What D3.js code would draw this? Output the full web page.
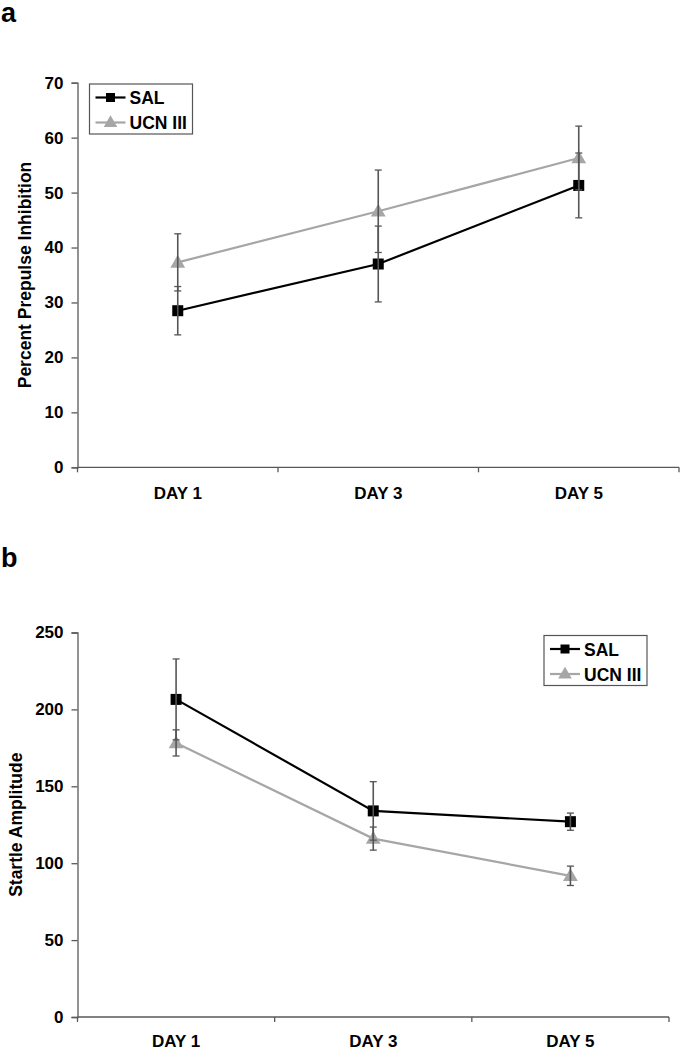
<!DOCTYPE html>
<html>
<head>
<meta charset="utf-8">
<script src="https://cdn.jsdelivr.net/npm/d3@7/dist/d3.min.js"></script>
<style>
  html, body { margin: 0; padding: 0; background: #fff; }
  svg { display: block; }
  text { font-family: "Liberation Sans", Arial, sans-serif; font-weight: bold; fill: #000; }
</style>
</head>
<body>
<script>
// ---- data ----
const days = ["DAY 1", "DAY 3", "DAY 5"];
const seriesNames = ["SAL", "UCN III"];

const ppiSal = [28.5, 37.0, 51.3];
const ppiSalErr = [4.4, 6.9, 5.9];
const ppiUcn = [37.3, 46.6, 56.3];
const ppiUcnErr = [5.2, 7.5, 5.8];
const ppiTicks = [0, 10, 20, 30, 40, 50, 60, 70];

const startleSal = [206.5, 134.0, 127.0];
const startleSalErr = [26.3, 19.0, 5.6];
const startleUcn = [178.2, 116.0, 91.8];
const startleUcnErr = [8.5, 7.5, 6.3];
const startleTicks = [0, 50, 100, 150, 200, 250];

// ---- drawing ----
const W = 680, H = 1050;
const svg = d3.select("body").append("svg").attr("width", W).attr("height", H);

const axisColor = "#595959";
const errColor = "#555555";
const salColor = "#000000";
const ucnColor = "#a6a6a6";

function triPath(size) {
  return d3.symbol().type(d3.symbolTriangle).size(size)();
}

function drawPanel(opt) {
  const g = svg.append("g");
  const x = d3.scaleBand().domain(days).range([opt.x0, opt.x1]).padding(0);
  const y = d3.scaleLinear().domain([0, opt.max]).range([opt.y0, opt.y1]);
  const cx = d => x(d) + x.bandwidth() / 2;

  // panel letter
  svg.append("text").attr("x", 1).attr("y", opt.letterY)
    .style("font-size", "27px").text(opt.letter);

  // y axis
  const ya = g.append("g").attr("transform", `translate(${opt.x0},0)`)
    .call(d3.axisLeft(y).tickValues(opt.ticks).tickSize(6).tickPadding(8).tickFormat(d3.format("d")));
  ya.select(".domain").attr("stroke", axisColor).attr("stroke-width", 1.3);
  ya.selectAll(".tick line").attr("stroke", axisColor).attr("stroke-width", 1.3);
  ya.selectAll(".tick text").style("font-size", "17px").style("font-family", "'Liberation Sans', Arial, sans-serif")
    .style("font-weight", "bold").attr("fill", "#000");

  // x axis line
  g.append("line").attr("x1", opt.x0).attr("x2", opt.x1).attr("y1", opt.y0).attr("y2", opt.y0)
    .attr("stroke", axisColor).attr("stroke-width", 1.3);
  // boundary ticks
  const bounds = days.map(d => x(d) + x.bandwidth()).concat([x(days[0])]);
  g.selectAll(".xt").data(bounds).enter().append("line")
    .attr("x1", d => d).attr("x2", d => d).attr("y1", opt.y0).attr("y2", opt.y0 + 5)
    .attr("stroke", axisColor).attr("stroke-width", 1.3);
  g.selectAll(".xl").data(days).enter().append("text")
    .attr("x", d => cx(d)).attr("y", opt.y0 + opt.labelOff).attr("text-anchor", "middle")
    .style("font-size", "17px").text(d => d);

  // y title
  g.append("text")
    .attr("transform", `translate(${opt.titleX},${(opt.y0 + opt.y1) / 2}) rotate(-90)`)
    .attr("text-anchor", "middle").style("font-size", opt.titleSize + "px").text(opt.title);

  const series = [
    { vals: opt.sal, err: opt.salErr, color: salColor, shape: "square" },
    { vals: opt.ucn, err: opt.ucnErr, color: ucnColor, shape: "tri" }
  ];

  const line = d3.line().x((d, i) => cx(days[i])).y(d => y(d));

  series.forEach(s => {
    g.append("path").datum(s.vals).attr("d", line)
      .attr("fill", "none").attr("stroke", s.color).attr("stroke-width", 2.2);
  });
  series.forEach(s => {
    if (s.shape === "square") {
      g.selectAll(null).data(s.vals).enter().append("rect")
        .attr("x", (d, i) => cx(days[i]) - 5.5).attr("y", d => y(d) - 5.5)
        .attr("width", 11).attr("height", 11).attr("fill", s.color);
    } else {
      g.selectAll(null).data(s.vals).enter().append("path")
        .attr("d", triPath(95))
        .attr("transform", (d, i) => `translate(${cx(days[i])},${y(d) + 1})`)
        .attr("fill", s.color);
    }
  });
  // error bars
  series.forEach(s => {
    s.vals.forEach((v, i) => {
      const px = cx(days[i]);
      const top = y(v + s.err[i]), bot = y(v - s.err[i]);
      g.append("line").attr("x1", px).attr("x2", px).attr("y1", top).attr("y2", bot)
        .attr("stroke", errColor).attr("stroke-width", 1.6);
      [top, bot].forEach(yy => {
        g.append("line").attr("x1", px - 3.5).attr("x2", px + 3.5).attr("y1", yy).attr("y2", yy)
          .attr("stroke", errColor).attr("stroke-width", 1.3);
      });
    });
  });

  // legend
  const lg = g.append("g").attr("transform", `translate(${opt.legX},${opt.legY})`);
  lg.append("rect").attr("x", 0).attr("y", 0).attr("width", 103).attr("height", 50)
    .attr("fill", "#fff").attr("stroke", "#555").attr("stroke-width", 1.2);
  seriesNames.forEach((name, i) => {
    const ry = 13.5 + i * 25;
    lg.append("line").attr("x1", 6).attr("x2", 36).attr("y1", ry).attr("y2", ry)
      .attr("stroke", i === 0 ? salColor : ucnColor).attr("stroke-width", 2.2);
    if (i === 0) {
      lg.append("rect").attr("x", 21 - 4.5).attr("y", ry - 4.5).attr("width", 9).attr("height", 9).attr("fill", salColor);
    } else {
      lg.append("path").attr("d", triPath(80)).attr("transform", `translate(21,${ry + 0.5})`).attr("fill", ucnColor);
    }
    lg.append("text").attr("x", 40).attr("y", ry + 6.5).style("font-size", "17.5px").text(name);
  });
}

drawPanel({
  letter: "a", letterY: 22,
  x0: 77.5, x1: 679, y0: 467.3, y1: 82.7, max: 70, ticks: ppiTicks, labelOff: 32,
  sal: ppiSal, salErr: ppiSalErr, ucn: ppiUcn, ucnErr: ppiUcnErr,
  title: "Percent Prepulse Inhibition", titleX: 31, titleSize: 17.5,
  legX: 89.5, legY: 84
});

drawPanel({
  letter: "b", letterY: 567,
  x0: 77.5, x1: 669, y0: 1017, y1: 632.5, max: 250, ticks: startleTicks, labelOff: 29.5,
  sal: startleSal, salErr: startleSalErr, ucn: startleUcn, ucnErr: startleUcnErr,
  title: "Startle Amplitude", titleX: 22, titleSize: 17.5,
  legX: 544, legY: 635.5
});
</script>
</body>
</html>
